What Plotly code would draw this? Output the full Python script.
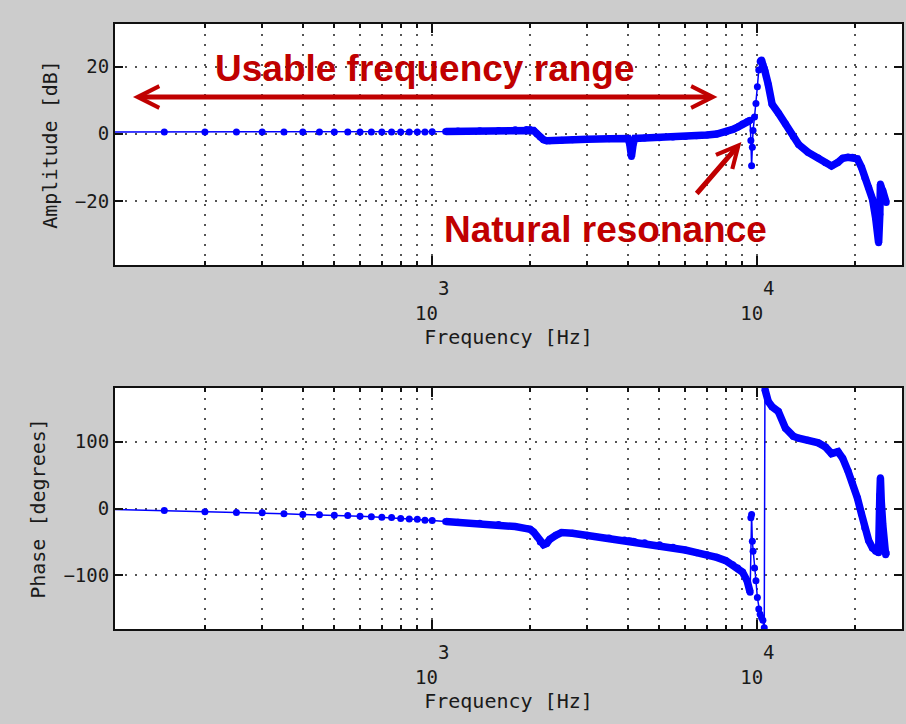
import plotly.graph_objects as go

# ---------------- data ----------------
freq_hz = [100, 150, 200, 250, 300, 350, 400, 450, 500, 550, 600, 650, 700, 750, 800, 850, 900, 950, 1000,
           1100, 1200, 1400, 1600, 1800, 1950, 2000, 2050, 2100, 2150, 2200, 2250, 2300, 2400, 2500, 2700,
           3000, 3500, 3900, 4000, 4050, 4100, 4150, 4200, 4500, 5000, 5500, 6000, 6500, 7000, 7500, 8000,
           8400, 8700, 9000, 9300, 9500, 9550, 9600, 9650, 9700, 9800, 9900, 10000, 10100, 10200, 10300,
           10400, 10500, 10550, 10800, 11100, 11600, 12200, 12900, 13400, 14300, 15400, 16200, 16900, 17700,
           18300, 19000, 19600, 20300, 20900, 21400, 22000, 22600, 23100, 23600, 23800, 23900, 24050, 24300,
           24600, 24800, 24900]

amplitude_db = [0.5, 0.5, 0.5, 0.5, 0.5, 0.5, 0.5, 0.5, 0.5, 0.5, 0.5, 0.5, 0.5, 0.5, 0.5, 0.5, 0.5, 0.5, 0.6,
                0.7, 0.8, 0.9, 1.0, 1.2, 1.3, 1.3, 1.0, 0.0, -1.0, -1.8, -2.1, -2.1, -2.0, -1.9, -1.8,
                -1.6, -1.5, -1.4, -1.4, -3.0, -6.8, -3.0, -1.4, -1.3, -1.2, -1.0, -0.8, -0.6, -0.4, -0.1, 0.5,
                1.3, 2.0, 2.9, 3.6, 4.0, -2.0, -9.5, -4.0, 1.0, 5.0, 9.0, 14.0, 19.0, 21.5, 22.0,
                20.5, 19.5, 18.7, 14.7, 8.8, 6.2, 3.0, -0.8, -3.2, -5.5, -7.2, -8.6, -9.6, -8.5,
                -7.3, -7.0, -7.0, -7.5, -10.0, -13.1, -16.0, -19.5, -25.0, -32.5, -24.0, -15.0, -16.0, -17.0,
                -19.0, -20.0, -20.5]

phase_deg = [-1, -3, -5, -6, -6.5, -8, -9, -9.5, -10, -10.5, -11.5, -12.5, -13, -13.5, -15, -15.5, -16, -17.5, -18,
             -19.5, -20.5, -22, -24, -27, -30, -31, -35, -42, -50, -54, -52, -46, -40, -36, -37,
             -40, -44, -47, -48, -48, -49, -49, -49.5, -51, -54, -58, -62, -66, -69, -73, -78,
             -84, -89, -95, -108, -125, -14, -9, -49, -64, -89, -108, -133, -150, -158, -163,
             -167, -178, 178, 160, 152, 145, 120, 108, 105, 102, 98, 92, 82, 85,
             75, 56, 38, 16, -8, -29, -48, -59, -64, -66, 20, 46, 10, -24,
             -50, -69, -66]

major_ticks = [1000, 10000]
# MATLAB-style exponent label: exponent above and to the right of the base
major_text = ["\u00a0\u00a03<br>10\u00a0", "\u00a0\u00a04<br>10\u00a0"]
minor_ticks = [200, 300, 400, 500, 600, 700, 800, 900,
               2000, 3000, 4000, 5000, 6000, 7000, 8000, 9000, 20000]
amp_ticks = [-20, 0, 20]
phase_ticks = [-100, 0, 100]

label_range = "Usable frequency range"
label_res = "Natural resonance"

# ---------------- styling ----------------
BLUE = "#0000ff"
RED = "#c00000"
W, H = 906, 724
ML, MR, MT, MB = 115, 2, 24, 95
PW = W - ML - MR
PH = H - MT - MB


def ypaper(py):
    return (H - MB - py) / PH


def xpaper(px):
    return (px - ML) / PW


def band(xs, ys, segments):
    bx, by = [], []
    for lo, hi in segments:
        for f, v in zip(xs, ys):
            if lo <= f <= hi:
                bx.append(f)
                by.append(v)
        bx.append(None)
        by.append(None)
    return bx, by


fig = go.Figure()

# amplitude
fig.add_trace(go.Scatter(x=freq_hz, y=amplitude_db, mode="lines+markers", xaxis="x", yaxis="y",
                         line=dict(color=BLUE, width=1.5), marker=dict(color=BLUE, size=7),
                         showlegend=False))
bx, by = band(freq_hz, amplitude_db, [(1100, 9500), (10200, 30000)])
fig.add_trace(go.Scatter(x=bx, y=by, mode="lines", xaxis="x", yaxis="y",
                         line=dict(color=BLUE, width=7.5), showlegend=False))

# phase
fig.add_trace(go.Scatter(x=freq_hz, y=phase_deg, mode="lines+markers", xaxis="x2", yaxis="y2",
                         line=dict(color=BLUE, width=1.5), marker=dict(color=BLUE, size=7),
                         showlegend=False))
bx2, by2 = band(freq_hz, phase_deg, [(1100, 9500), (10550, 30000)])
fig.add_trace(go.Scatter(x=bx2, y=by2, mode="lines", xaxis="x2", yaxis="y2",
                         line=dict(color=BLUE, width=7.5), showlegend=False))

tick_font = dict(family="DejaVu Sans Mono", size=19, color="#1a1a1a")
title_font = dict(family="DejaVu Sans Mono", size=20, color="#1a1a1a")
grid = dict(showgrid=True, gridcolor="#555555", gridwidth=2, griddash="2px,8px")

xcommon = dict(type="log", range=[2.0245, 4.4448], tickmode="array", tickvals=major_ticks,
               ticktext=major_text, ticks="inside", ticklen=9, tickwidth=1.5, tickcolor="#111",
               showline=True, linecolor="#111", linewidth=2, mirror="ticks", zeroline=False,
               tickfont=tick_font, ticklabelstandoff=5,
               minor=dict(tickmode="array", tickvals=minor_ticks, ticks="inside", ticklen=4,
                          tickcolor="#111", showgrid=True, gridcolor="#555555", gridwidth=2,
                          griddash="2px,8px"),
               title=dict(text="Frequency [Hz]", font=title_font, standoff=7),
               **grid)

ycommon = dict(ticks="inside", ticklen=8, tickwidth=1.5, tickcolor="#111", showline=True,
               linecolor="#111", linewidth=2, mirror="ticks", zeroline=False, tickfont=tick_font,
               **grid)

fig.update_layout(
    width=W, height=H,
    margin=dict(l=ML, r=MR, t=MT, b=MB),
    paper_bgcolor="#cccccc", plot_bgcolor="#ffffff",
    xaxis=dict(domain=[0, 1], anchor="y", **xcommon),
    yaxis=dict(domain=[ypaper(265), 1], anchor="x", range=[-39.1, 32.7], tickvals=amp_ticks,
               title=dict(text="Amplitude [dB]", font=title_font, standoff=12), **ycommon),
    xaxis2=dict(domain=[0, 1], anchor="y2", **xcommon),
    yaxis2=dict(domain=[0, ypaper(388)], anchor="x2", range=[-180, 180], tickvals=phase_ticks,
                title=dict(text="Phase [degrees]", font=title_font, standoff=12), **ycommon),
)

ann_font = dict(family="Liberation Sans", size=37, color=RED)
fig.add_annotation(x=xpaper(425), y=ypaper(68), xref="paper", yref="paper",
                   text="<b>" + label_range + "</b>", showarrow=False, font=ann_font,
                   xanchor="center", yanchor="middle")
fig.add_annotation(x=xpaper(607), y=ypaper(229), xref="paper", yref="paper",
                   text="<b>" + label_res + "</b>", showarrow=False, font=ann_font,
                   xanchor="center", yanchor="middle")
# double-headed arrow
fig.add_annotation(x=xpaper(719), y=ypaper(97), xref="paper", yref="paper", text="",
                   showarrow=True, ax=-586, ay=0, arrowhead=5, startarrowhead=5,
                   arrowside="end+start", arrowwidth=5, arrowsize=0.85, startarrowsize=0.85,
                   arrowcolor=RED, standoff=0, startstandoff=0)
# resonance arrow
fig.add_annotation(x=xpaper(743), y=ypaper(142), xref="paper", yref="paper", text="",
                   showarrow=True, ax=-46, ay=53, arrowhead=5, arrowwidth=5, arrowsize=0.85,
                   arrowcolor=RED, standoff=0)

fig.write_html("out.html")
